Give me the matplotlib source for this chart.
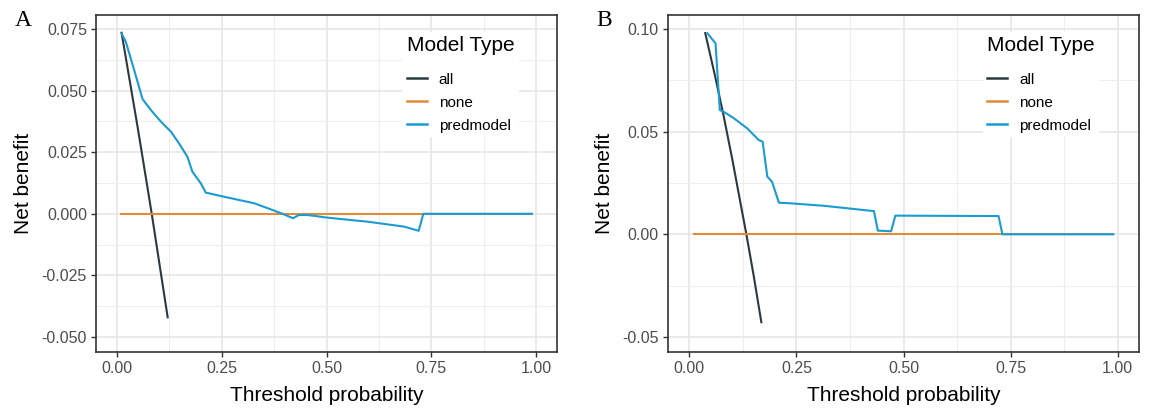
import matplotlib
matplotlib.use("Agg")
import matplotlib.pyplot as plt
from matplotlib.lines import Line2D
from matplotlib.ticker import MultipleLocator

# ---------------- data ----------------
# Panel A
a_all_x = [0.011, 0.05, 0.083, 0.121]
a_all_y = [0.0735, 0.0345, 0.0, -0.0420]
a_none_x = [0.01, 0.99]
a_none_y = [0.0, 0.0]
a_pred_x = [0.011, 0.021, 0.041, 0.061, 0.081, 0.105, 0.129, 0.148, 0.168, 0.180,
            0.200, 0.212, 0.256, 0.327, 0.375, 0.398, 0.420, 0.434, 0.454, 0.474,
            0.494, 0.533, 0.598, 0.685, 0.720, 0.731, 0.99]
a_pred_y = [0.0732, 0.0699, 0.0584, 0.0466, 0.0421, 0.0374, 0.0333, 0.0286, 0.0232, 0.0171,
            0.0124, 0.0086, 0.0069, 0.0043, 0.0013, -0.0002, -0.0018, -0.0005, -0.0005, -0.0009,
            -0.0014, -0.0021, -0.0032, -0.0052, -0.0069, 0.0, 0.0]

# Panel B
b_all_x = [0.037, 0.06, 0.08, 0.10, 0.133, 0.15, 0.168]
b_all_y = [0.098, 0.077, 0.0576, 0.0367, 0.0, -0.020, -0.0428]
b_none_x = [0.01, 0.99]
b_none_y = [0.0, 0.0]
b_pred_x = [0.042, 0.061, 0.071, 0.080, 0.104, 0.135, 0.162, 0.171, 0.182, 0.193,
            0.209, 0.236, 0.314, 0.368, 0.431, 0.440, 0.471, 0.481, 0.722, 0.731, 0.99]
b_pred_y = [0.0979, 0.0930, 0.0605, 0.0597, 0.0565, 0.0516, 0.0459, 0.0451, 0.0281, 0.0256,
            0.0154, 0.0151, 0.0139, 0.0127, 0.0113, 0.0018, 0.0015, 0.0091, 0.0089, 0.0, 0.0]

series_labels = ["all", "none", "predmodel"]
legend_title = "Model Type"
x_ticks = [0.0, 0.25, 0.5, 0.75, 1.0]
x_ticklabels = ["0.00", "0.25", "0.50", "0.75", "1.00"]
a_y_ticks = [-0.05, -0.025, 0.0, 0.025, 0.05, 0.075]
a_y_ticklabels = ["-0.050", "-0.025", "0.000", "0.025", "0.050", "0.075"]
b_y_ticks = [-0.05, 0.0, 0.05, 0.10]
b_y_ticklabels = ["-0.05", "0.00", "0.05", "0.10"]

# ---------------- style ----------------
colors = {"all": "#2B3A3E", "none": "#E38B35", "predmodel": "#1A9BD1"}
FONT = ["Liberation Sans", "DejaVu Sans"]
plt.rcParams["font.family"] = FONT

W, H = 1152, 409
fig = plt.figure(figsize=(W / 100, H / 100), dpi=100)


def frac_box(l, r, t, b):
    return [l / W, 1 - b / H, (r - l) / W, (b - t) / H]


def style_axes(ax, yticks, yticklabels, ylim, yminor):
    ax.set_xlim(-0.05, 1.05)
    ax.set_ylim(*ylim)
    ax.set_xticks(x_ticks)
    ax.set_xticklabels(x_ticklabels)
    ax.set_yticks(yticks)
    ax.set_yticklabels(yticklabels)
    ax.xaxis.set_minor_locator(MultipleLocator(0.125))
    ax.yaxis.set_minor_locator(MultipleLocator(yminor))
    ax.grid(which="major", color="#E6E6E6", lw=1.2)
    ax.grid(which="minor", color="#EEEEEE", lw=0.8)
    ax.set_axisbelow(True)
    ax.tick_params(which="major", length=3.5, width=1.0, color="#333333",
                   labelsize=11.5, labelcolor="#4D4D4D", pad=3)
    ax.tick_params(which="minor", length=0)
    for s in ax.spines.values():
        s.set_color("#333333")
        s.set_linewidth(1.2)
    ax.set_xlabel("Threshold probability", fontsize=15, color="black", labelpad=7)
    ax.set_ylabel("Net benefit", fontsize=15, color="black", labelpad=6)


def add_legend(ax, xanchor):
    handles = [Line2D([], [], color=colors[k], lw=1.8) for k in series_labels]
    leg = ax.legend(handles, series_labels, title=legend_title, loc="upper left",
                    bbox_to_anchor=(xanchor, 0.95), frameon=True, fontsize=11,
                    title_fontsize=15, handlelength=1.3, handletextpad=0.8,
                    labelspacing=0.58, borderpad=0.3, borderaxespad=0)
    leg.get_frame().set_facecolor("white")
    leg.get_frame().set_edgecolor("none")
    leg.get_frame().set_alpha(1)
    leg._legend_box.align = "left"
    leg._legend_box.sep = 12.5
    return leg


LW = 1.5

# Panel A
axA = fig.add_axes(frac_box(96, 557, 15, 352))
axA.plot(a_all_x, a_all_y, color=colors["all"], lw=LW)
axA.plot(a_none_x, a_none_y, color=colors["none"], lw=LW)
axA.plot(a_pred_x, a_pred_y, color=colors["predmodel"], lw=LW)
style_axes(axA, a_y_ticks, a_y_ticklabels, (-0.0561, 0.0807), 0.0125)
add_legend(axA, 0.664)

# Panel B
axB = fig.add_axes(frac_box(668, 1139, 15, 352))
axB.plot(b_all_x, b_all_y, color=colors["all"], lw=LW)
axB.plot(b_none_x, b_none_y, color=colors["none"], lw=LW)
axB.plot(b_pred_x, b_pred_y, color=colors["predmodel"], lw=LW)
style_axes(axB, b_y_ticks, b_y_ticklabels, (-0.0573, 0.1068), 0.025)
add_legend(axB, 0.668)

fig.text(23 / W, 1 - 21 / H, "A", fontsize=17, family=["Liberation Serif", "DejaVu Serif"],
         ha="center", va="center")
fig.text(604 / W, 1 - 21 / H, "B", fontsize=17, family=["Liberation Serif", "DejaVu Serif"],
         ha="center", va="center")

fig.savefig("out.png", dpi=100, facecolor="white")
